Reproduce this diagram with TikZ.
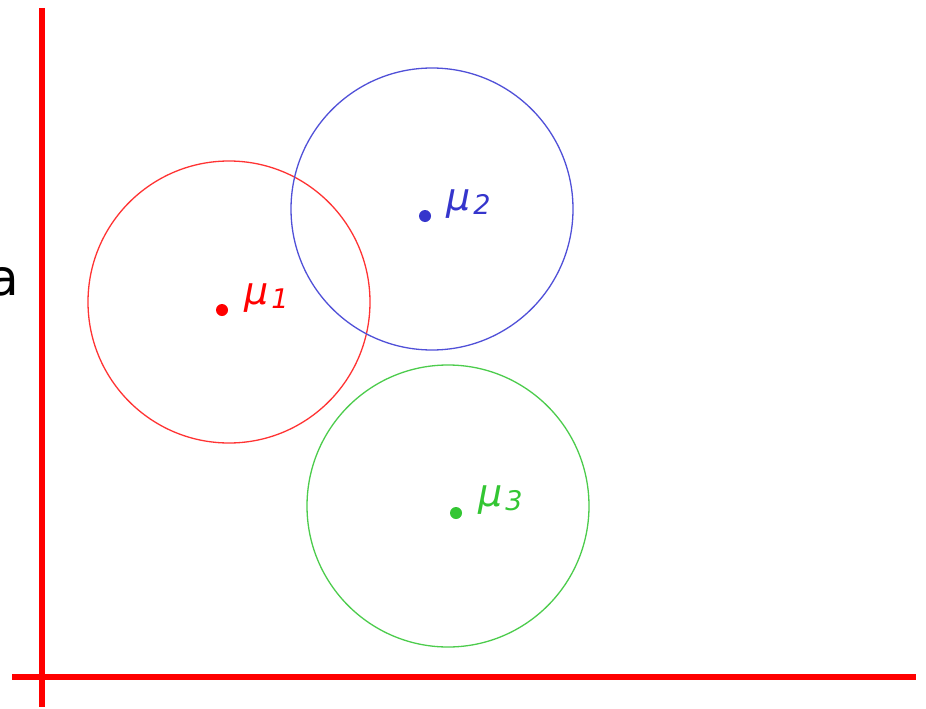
\documentclass[tikz,border=0pt]{standalone}
\usepackage{fontspec}
\setmainfont{DejaVu Sans}
\definecolor{axred}{HTML}{FF0000}
\definecolor{cred}{HTML}{FF3333}
\definecolor{cblue}{HTML}{5050D8}
\definecolor{dblue}{HTML}{3535CC}
\definecolor{cgreen}{HTML}{4CCC4C}
\definecolor{dgreen}{HTML}{33C633}
\newcommand{\mulab}[1]{\fontsize{38}{38}\selectfont\itshape μ\hspace{3pt}\raisebox{-4pt}{\fontsize{27}{27}\selectfont #1}}
\begin{document}
\begin{tikzpicture}[x=1pt,y=-1pt,
  axis/.style={line width=6pt, draw=axred},
  ring/.style={circle, draw=#1, line width=1.3pt, minimum size=282pt, inner sep=0pt},
  centre/.style={circle, fill=#1, minimum size=12pt, inner sep=0pt},
  mulabel/.style={text=#1, anchor=base west, inner sep=0pt}]
\useasboundingbox (0,0) rectangle (926,709);
\fill[white] (0,0) rectangle (926,709);
\coordinate (yt) at (42,8);
\coordinate (yb) at (42,707);
\coordinate (xl) at (12,677);
\coordinate (xr) at (916,677);
\draw[axis] (yt) -- (yb);
\draw[axis] (xl) -- (xr);
\node[anchor=base east, inner sep=0pt, font=\fontsize{50}{50}\selectfont] (alab) at (19,295) {a};
% circles
\node[ring=cred] (c1) at (229,302) {};
\node[ring=cblue] (c2) at (432,209) {};
\node[ring=cgreen] (c3) at (448,506) {};
% centres
\node[centre=axred] (m1) at (222,310) {};
\node[centre=dblue] (m2) at (425,216) {};
\node[centre=dgreen] (m3) at (456,513) {};
% labels
\node[mulabel=axred] (l1) at (244,304) {\mulab{1}};
\node[mulabel=dblue] (l2) at (446,210) {\mulab{2}};
\node[mulabel=dgreen] (l3) at (478,506) {\mulab{3}};
\end{tikzpicture}
\end{document}
